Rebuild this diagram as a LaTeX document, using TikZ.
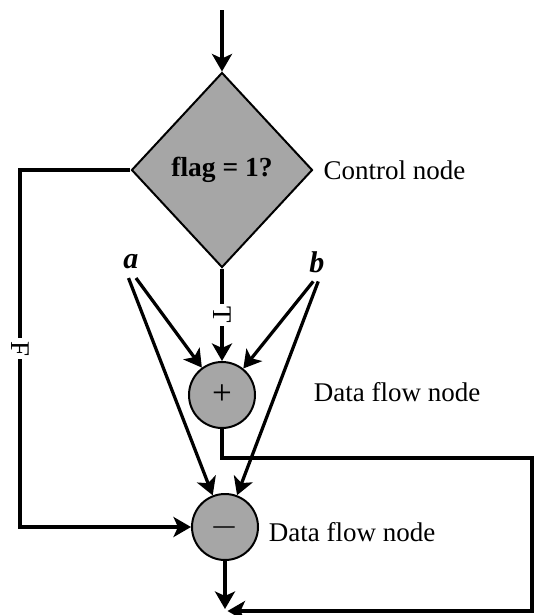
\documentclass[tikz,border=0pt]{standalone}
\usepackage{fontspec}
\setmainfont{Liberation Serif}
\usetikzlibrary{shapes.geometric, arrows.meta, positioning}

\begin{document}
\begin{tikzpicture}[x = 0.4pt, y = -0.4pt,
		> = {Stealth[length=7pt, width=8pt, inset=1.8pt]},
		font = \fontsize{10.8}{13}\selectfont,
		flow/.style = {line width=1.3pt},
		ctrlnode/.style = {diamond, draw, line width=0.8pt, fill=black!35,
			minimum width=72.4pt, minimum height=78pt, inner sep=0pt,
			font=\fontsize{11}{13}\selectfont\bfseries},
		datanode/.style = {circle, draw, line width=0.8pt, fill=black!35,
			minimum size=26.4pt, inner sep=0pt, font=\fontsize{14}{16}\selectfont},
		varlabel/.style = {font=\fontsize{12}{14}\selectfont\bfseries\itshape},
		flowlabel/.style = {fill=white, rotate=-90, inner sep=1pt}]
			\useasboundingbox (0,0) rectangle (536,615);
			
			%% Nodes
			\coordinate (start) at (222,10);
			\node [ctrlnode] (flag) at (222,170) {flag = 1?};
			\node [datanode] (plus) at (222,395) {+};
			\node [datanode] (minus) at (225,527) {$-$};
			\node [varlabel] (a) at (131,262) {a};
			\node [varlabel] (b) at (317,262) {b};
			
			\node [right=0.5pt of flag] (ctrltext) {Control node};
			\node [right=19.6pt of plus, yshift=1pt] (plustext) {Data flow node};
			\node [right=0.4pt of minus, yshift=-2pt] (minustext) {Data flow node};
			
			\coordinate (fcorner) at (20,170);
			\coordinate (fbottom) at (20,527);
			\coordinate (pbend) at (222,458);
			\coordinate (pright) at (532,458);
			\coordinate (pdown) at (532,611);
			\coordinate (join) at (225,609);
			
			%% Control flow
			\draw [flow, ->] (start) -- (flag.north);
			\draw [flow, ->] (flag.south) -- node [flowlabel] {T} (plus.north);
			\draw [flow, ->] (flag.west) -- (fcorner) -- node [flowlabel] {F} (fbottom) -- (minus.west);
			
			%% Data flow
			\draw [flow, ->] ([xshift=2pt]a.south) -- (plus);
			\draw [flow, ->] ([xshift=-1pt]a.south) -- (minus);
			\draw [flow, ->] ([xshift=-1.5pt]b.south) -- (plus);
			\draw [flow, ->] ([xshift=0.5pt]b.south) -- (minus);
			
			%% Outputs
			\draw [flow, ->] (plus.south) -- (pbend) -- (pright) -- (pdown) -- ([xshift=1pt]join |- pdown);
			\draw [flow, ->] (minus.south) -- (join);
		\end{tikzpicture}
\end{document}
